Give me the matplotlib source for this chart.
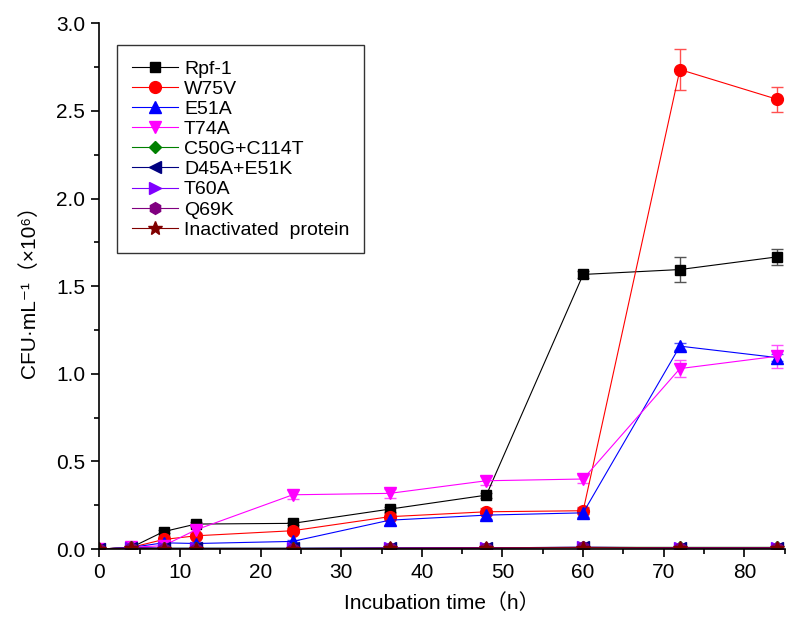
import matplotlib
matplotlib.use("Agg")
import matplotlib.pyplot as plt
from matplotlib.ticker import MultipleLocator, FormatStrFormatter

plt.rcParams['font.family'] = ['Liberation Sans', 'DejaVu Sans', 'Noto Sans CJK SC']

hours = [0, 4, 8, 12, 24, 36, 48, 60, 72, 84]

rpf1 = [0.0, 0.01, 0.10, 0.143, 0.147, 0.228, 0.308, 1.567, 1.595, 1.667]
rpf1_err = [0, 0.005, 0.01, 0.01, 0.01, 0.015, 0.015, 0.02, 0.071, 0.046]

w75v = [0.0, 0.01, 0.055, 0.076, 0.105, 0.185, 0.213, 0.219, 2.736, 2.567]
w75v_err = [0, 0.005, 0.01, 0.01, 0.015, 0.02, 0.02, 0.02, 0.119, 0.072]

e51a = [0.0, 0.01, 0.036, 0.032, 0.044, 0.165, 0.194, 0.207, 1.158, 1.093]
e51a_err = [0, 0.005, 0.01, 0.01, 0.01, 0.025, 0.025, 0.025, 0.02, 0.02]

t74a = [0.0, 0.01, 0.02, 0.11, 0.31, 0.318, 0.39, 0.40, 1.03, 1.10]
t74a_err = [0, 0.005, 0.01, 0.02, 0.025, 0.025, 0.025, 0.02, 0.05, 0.067]

c50g = [0.0, 0.01, 0.005, 0.005, 0.005, 0.006, 0.008, 0.01, 0.01, 0.01]
d45a = [0.0, 0.008, 0.004, 0.004, 0.004, 0.006, 0.008, 0.01, 0.008, 0.008]
t60a = [0.0, 0.008, 0.004, 0.004, 0.004, 0.006, 0.008, 0.01, 0.008, 0.008]
q69k = [0.0, 0.006, 0.003, 0.003, 0.003, 0.005, 0.007, 0.01, 0.007, 0.007]
inact = [0.0, 0.005, 0.002, 0.002, 0.002, 0.004, 0.006, 0.008, 0.006, 0.006]
small_err = [0, 0.003, 0.003, 0.003, 0.003, 0.004, 0.004, 0.004, 0.004, 0.004]

series = [
    ("Rpf-1", rpf1, rpf1_err, "black", "#555555", "s", 7.5),
    ("W75V", w75v, w75v_err, "#ff0000", "#ff5050", "o", 8.5),
    ("E51A", e51a, e51a_err, "#0000ff", "#5050ff", "^", 8.5),
    ("T74A", t74a, t74a_err, "#ff00ff", "#ff50ff", "v", 8.5),
    ("C50G+C114T", c50g, small_err, "#008000", "#008000", "D", 6.5),
    ("D45A+E51K", d45a, small_err, "#000080", "#000080", "<", 8.5),
    ("T60A", t60a, small_err, "#8000ff", "#8000ff", ">", 8.5),
    ("Q69K", q69k, small_err, "#800080", "#800080", "h", 8.5),
    ("Inactivated  protein", inact, small_err, "#800000", "#800000", "*", 10),
]

fig = plt.figure(figsize=(8.0, 6.29), dpi=100)
ax = fig.add_axes([0.124, 0.127, 0.857, 0.836])

handles = []
for name, vals, err, col, ecol, mk, ms in series:
    cont = ax.errorbar(hours, vals, yerr=err, color=col, marker=mk, markersize=ms,
                       linewidth=0.8, elinewidth=1.0, capsize=4, capthick=1.0,
                       ecolor=ecol, label=name)
    handles.append(cont.lines[0])

ax.set_xlim(0, 85)
ax.set_ylim(0, 3.0)
ax.xaxis.set_major_locator(MultipleLocator(10))
ax.xaxis.set_minor_locator(MultipleLocator(5))
ax.yaxis.set_major_locator(MultipleLocator(0.5))
ax.yaxis.set_minor_locator(MultipleLocator(0.25))
ax.yaxis.set_major_formatter(FormatStrFormatter('%.1f'))
ax.spines['top'].set_visible(False)
ax.spines['right'].set_visible(False)
for s in ('left', 'bottom'):
    ax.spines[s].set_linewidth(1.2)
ax.tick_params(axis='both', which='major', direction='out', length=6, width=1.2,
               labelsize=15, pad=4)
ax.tick_params(axis='both', which='minor', direction='out', length=3.5, width=1.2)

ax.set_xlabel("Incubation time（h）", fontsize=15, labelpad=8)
ax.set_ylabel("CFU·mL⁻¹（×10⁶）", fontsize=15, labelpad=12)

leg = ax.legend(handles=handles, labels=[s[0] for s in series],
                loc='upper left', bbox_to_anchor=(0.026, 0.958), borderaxespad=0,
                fontsize=14, frameon=True, fancybox=False, edgecolor='black',
                handlelength=2.4, labelspacing=0.13, borderpad=0.75, handletextpad=0.3)
leg.get_frame().set_linewidth(1.0)

fig.savefig("out.png", dpi=100)
